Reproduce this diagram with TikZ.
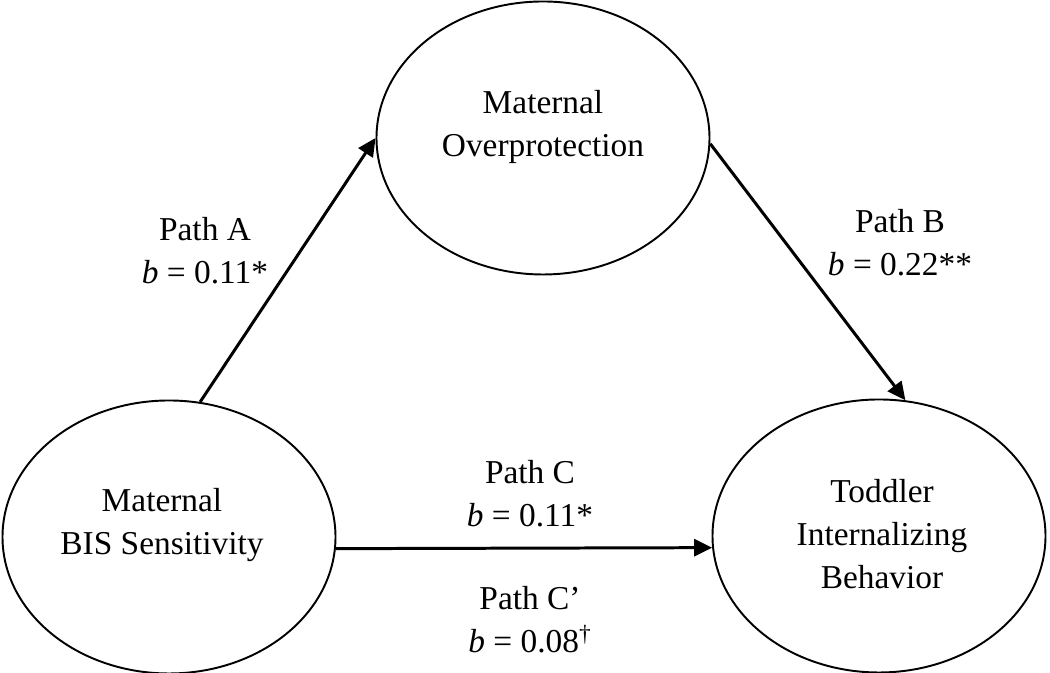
\documentclass[tikz,border=0pt]{standalone}
\usepackage{fontspec}
\setmainfont{Liberation Serif}
\usetikzlibrary{arrows.meta,shapes.geometric}
\begin{document}
\begin{tikzpicture}[line width=1.7pt,
	every node/.append style={font=\fontsize{19}{24.5}\selectfont,align=center},
	txt/.style={inner sep=0pt},
	patharrow/.style={-{Triangle[length=0.36cm,width=0.34cm]}}]
			\useasboundingbox (0,0) rectangle (21,13.46);
			\begin{scope}[every node/.style={ellipse,draw,line width=1.1pt,
				inner sep=0pt,minimum width=6.66cm,minimum height=5.46cm}]
			\node (over) at (10.86,10.70) {};
			\node (bis) at (3.38,2.72) {};
			\node (tib) at (17.58,2.74) {};
			\end{scope}
			
			\node[txt] (overtxt) at (10.86,10.92) {Maternal\\Overprotection};
			\node[txt] (bistxt) at (3.24,2.96) {Maternal\\BIS Sensitivity};
			\node[txt] (tibtxt) at (17.64,2.77) {Toddler\\Internalizing\\Behavior};
			
			\node[txt] (pa) at (4.10,8.44) {Path A\\\textit{b} = 0.11*};
			\node[txt] (pb) at (18.00,8.60) {Path B\\\textit{b} = 0.22**};
			\node[txt] (pc) at (10.60,3.58) {Path C\\\textit{b} = 0.11*};
			\node[txt] (pcp) at (10.60,1.06) {Path C’\\\textit{b} = 0.08\textsuperscript{\textdagger}};
			
			\draw[patharrow] (bis.77) -- (over.west);
			\draw[patharrow] (over.-2) -- (tib.79);
			\draw[patharrow] (bis.-4) -- (tib.184);
			\end{tikzpicture}
\end{document}
